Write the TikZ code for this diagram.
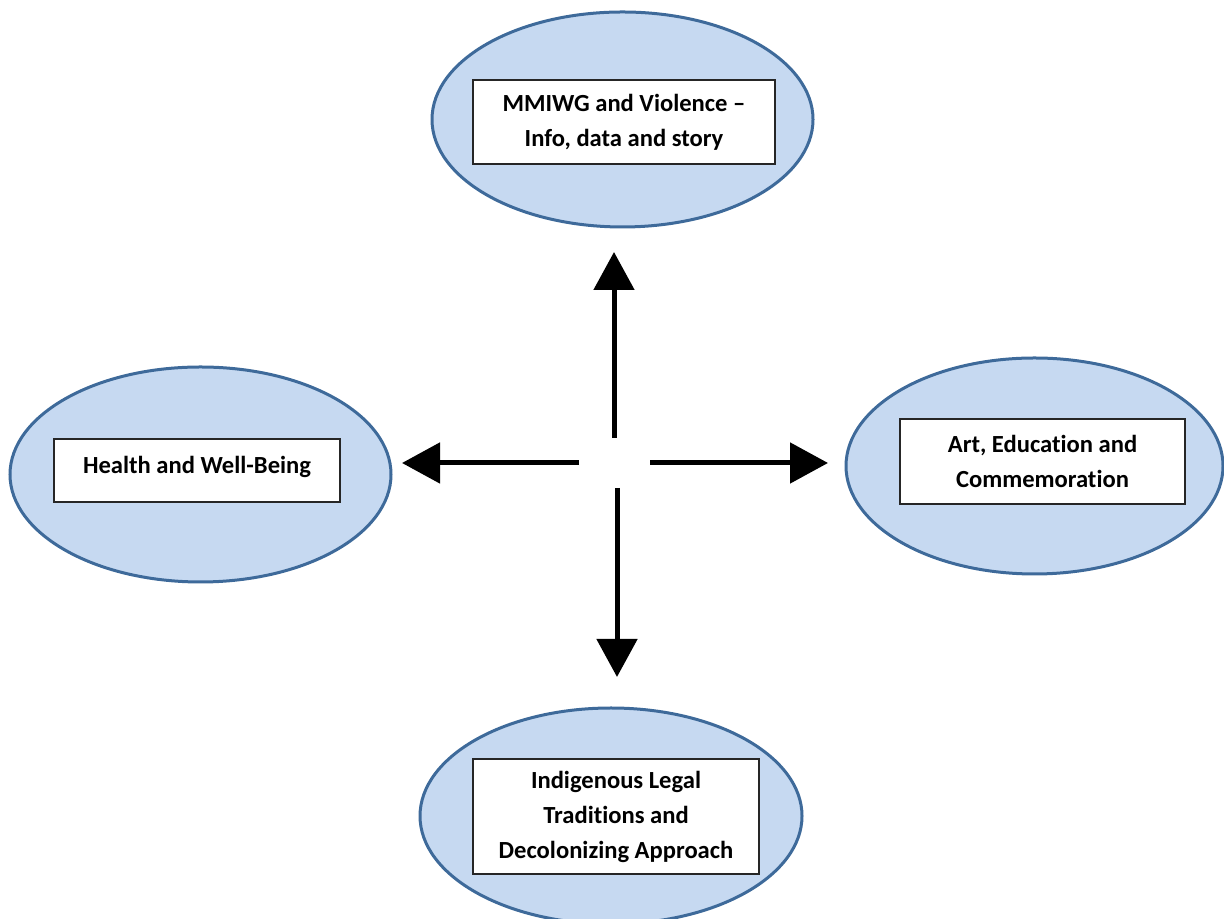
\documentclass[tikz,border=0pt]{standalone}
\usepackage{fontspec}
\setmainfont[Ligatures=NoCommon]{Carlito}
\usepackage{tikz}
\usetikzlibrary{arrows.meta, shapes.geometric, positioning}

\definecolor{topicfill}{RGB}{198,217,241}
\definecolor{topicline}{RGB}{62,106,154}

\begin{document}
\begin{tikzpicture}[x = 0.5pt, y = 0.5pt,
		topic/.style = {ellipse, draw=topicline, fill=topicfill, line width=1.5pt, inner sep=0pt},
		tag/.style = {draw=black!85, fill=white, line width=1pt, inner sep=0pt, align=center,
			font=\bfseries\fontsize{12.3}{17.5}\selectfont}]
			\useasboundingbox (0,0) rectangle (1224,919);

			\node[topic, minimum width=190.5pt, minimum height=107.5pt] (mmiwg) at (622.5,799.5) {};
			\node[topic, minimum width=190.5pt, minimum height=107.5pt] (health) at (200.5,444.5) {};
			\node[topic, minimum width=188.5pt, minimum height=108pt] (art) at (1034.5,453) {};
			\node[topic, minimum width=191pt, minimum height=108pt] (legal) at (611,103) {};

			\node[tag, minimum width=151pt, minimum height=42pt] (mmiwgbox) at (624,797) {MMIWG and Violence --\\Info, data and story};
			\node[tag, minimum width=143pt, minimum height=31.5pt, text depth=6pt] (healthbox) at (197,448.5) {Health and Well-Being};
			\node[tag, minimum width=142.5pt, minimum height=42.5pt] (artbox) at (1042.5,457.5) {Art, Education and\\Commemoration};
			\node[tag, minimum width=143pt, minimum height=57.5pt] (legalbox) at (616,102.5) {Indigenous Legal\\Traditions and\\Decolonizing Approach};

			\coordinate (cN) at (614,481);
			\coordinate (cS) at (617,431);
			\coordinate (cW) at (579,456);
			\coordinate (cE) at (650,456);
			\coordinate (tN) at (614,667);
			\coordinate (tS) at (617,242);
			\coordinate (tW) at (402,456);
			\coordinate (tE) at (828,456);

			\path[-{Triangle[length=19pt, width=20pt]}, line width=2.5pt]
				(cN) edge (tN)
				(cS) edge (tS)
				(cW) edge (tW)
				(cE) edge (tE);
\end{tikzpicture}
\end{document}
